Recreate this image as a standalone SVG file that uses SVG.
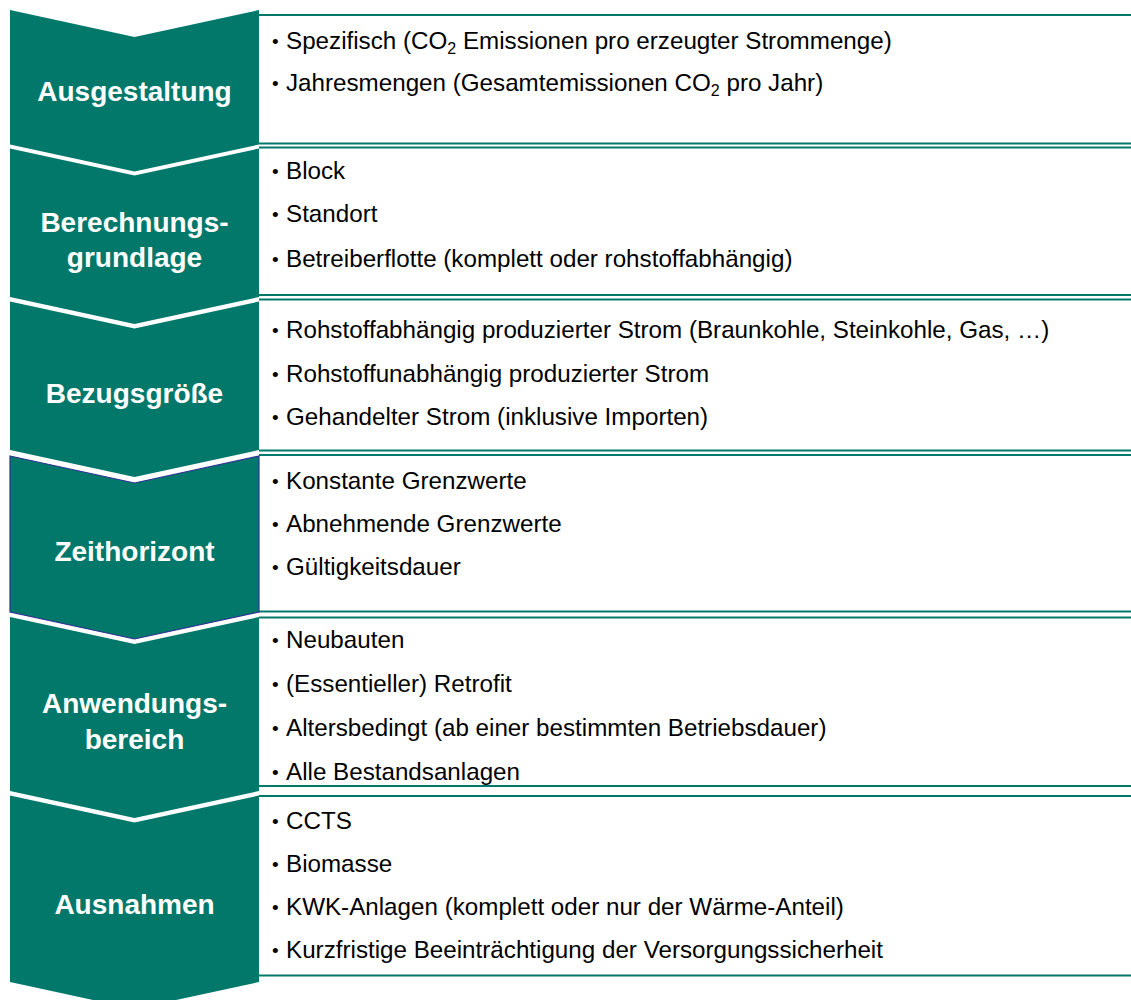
<svg xmlns="http://www.w3.org/2000/svg" width="1131" height="1000" viewBox="0 0 1131 1000">
<style>
.chev{fill:#02786B;}
.chev4{fill:#02786B;stroke:#2E3192;stroke-width:1.2;}
.lbl{font-family:"Liberation Sans",Arial,sans-serif;font-weight:bold;font-size:28px;fill:#FFFFFF;text-anchor:middle;}
.txt{font-family:"Liberation Sans",Arial,sans-serif;font-size:24.2px;fill:#000000;}
.bul{font-family:"Liberation Sans",Arial,sans-serif;font-size:19px;fill:#000000;}
.ln{stroke:#02786B;stroke-width:2;fill:none;}
</style>
<rect width="1131" height="1000" fill="#FFFFFF"/>
<g id="connectors">
<line class="ln" x1="259" y1="15" x2="1131" y2="15"/>
<line class="ln" x1="259" y1="143.5" x2="1131" y2="143.5"/>
<line class="ln" x1="259" y1="147.5" x2="1131" y2="147.5"/>
<line class="ln" x1="259" y1="295" x2="1131" y2="295"/>
<line class="ln" x1="259" y1="299.5" x2="1131" y2="299.5"/>
<line class="ln" x1="259" y1="450.5" x2="1131" y2="450.5"/>
<line class="ln" x1="259" y1="455" x2="1131" y2="455"/>
<line class="ln" x1="259" y1="611.5" x2="1131" y2="611.5"/>
<line class="ln" x1="259" y1="617.5" x2="1131" y2="617.5"/>
<line class="ln" x1="259" y1="786" x2="1131" y2="786"/>
<line class="ln" x1="259" y1="796" x2="1131" y2="796"/>
<line class="ln" x1="259" y1="975.5" x2="1131" y2="975.5"/>
</g>
<g id="node-ausgestaltung">
<polygon class="chev" points="10,10 134.5,37 259,10 259,144.5 134.5,171.5 10,144.5"/>
<text class="lbl" x="134.5" y="101">Ausgestaltung</text>
<text class="bul" x="272" y="48">•</text>
<text class="txt" x="286" y="49">Spezifisch (CO<tspan font-size="16" dy="5">2</tspan><tspan dy="-5"> Emissionen pro erzeugter Strommenge)</tspan></text>
<text class="bul" x="272" y="90">•</text>
<text class="txt" x="286" y="91">Jahresmengen (Gesamtemissionen CO<tspan font-size="16" dy="5">2</tspan><tspan dy="-5"> pro Jahr)</tspan></text>
</g>
<g id="node-berechnungsgrundlage">
<polygon class="chev" points="10,148.5 134.5,175.5 259,148.5 259,297 134.5,324 10,297"/>
<text class="lbl" x="134.5" y="232">Berechnungs-</text>
<text class="lbl" x="134.5" y="267">grundlage</text>
<text class="bul" x="272" y="178">•</text>
<text class="txt" x="286" y="179">Block</text>
<text class="bul" x="272" y="221">•</text>
<text class="txt" x="286" y="222">Standort</text>
<text class="bul" x="272" y="266">•</text>
<text class="txt" x="286" y="267">Betreiberflotte (komplett oder rohstoffabhängig)</text>
</g>
<g id="node-bezugsgroesse">
<polygon class="chev" points="10,301.5 134.5,328.5 259,301.5 259,450 134.5,477 10,450"/>
<text class="lbl" x="134.5" y="403">Bezugsgröße</text>
<text class="bul" x="272" y="337">•</text>
<text class="txt" x="286" y="338">Rohstoffabhängig produzierter Strom (Braunkohle, Steinkohle, Gas, …)</text>
<text class="bul" x="272" y="381">•</text>
<text class="txt" x="286" y="382">Rohstoffunabhängig produzierter Strom</text>
<text class="bul" x="272" y="424">•</text>
<text class="txt" x="286" y="425">Gehandelter Strom (inklusive Importen)</text>
</g>
<g id="node-zeithorizont">
<polygon class="chev4" points="10,456 134.5,483 259,456 259,612 134.5,639 10,612"/>
<text class="lbl" x="134.5" y="561">Zeithorizont</text>
<text class="bul" x="272" y="488">•</text>
<text class="txt" x="286" y="489">Konstante Grenzwerte</text>
<text class="bul" x="272" y="531">•</text>
<text class="txt" x="286" y="532">Abnehmende Grenzwerte</text>
<text class="bul" x="272" y="574">•</text>
<text class="txt" x="286" y="575">Gültigkeitsdauer</text>
</g>
<g id="node-anwendungsbereich">
<polygon class="chev" points="10,617 134.5,644 259,617 259,791 134.5,818 10,791"/>
<text class="lbl" x="134.5" y="713">Anwendungs-</text>
<text class="lbl" x="134.5" y="749">bereich</text>
<text class="bul" x="272" y="647">•</text>
<text class="txt" x="286" y="648">Neubauten</text>
<text class="bul" x="272" y="691">•</text>
<text class="txt" x="286" y="692">(Essentieller) Retrofit</text>
<text class="bul" x="272" y="735">•</text>
<text class="txt" x="286" y="736">Altersbedingt (ab einer bestimmten Betriebsdauer)</text>
<text class="bul" x="272" y="779">•</text>
<text class="txt" x="286" y="780">Alle Bestandsanlagen</text>
</g>
<g id="node-ausnahmen">
<polygon class="chev" points="10,795.5 134.5,822.5 259,795.5 259,982 134.5,1009 10,982"/>
<text class="lbl" x="134.5" y="914">Ausnahmen</text>
<text class="bul" x="272" y="828">•</text>
<text class="txt" x="286" y="829">CCTS</text>
<text class="bul" x="272" y="871">•</text>
<text class="txt" x="286" y="872">Biomasse</text>
<text class="bul" x="272" y="914">•</text>
<text class="txt" x="286" y="915">KWK-Anlagen (komplett oder nur der Wärme-Anteil)</text>
<text class="bul" x="272" y="957">•</text>
<text class="txt" x="286" y="958">Kurzfristige Beeinträchtigung der Versorgungssicherheit</text>
</g>
</svg>
